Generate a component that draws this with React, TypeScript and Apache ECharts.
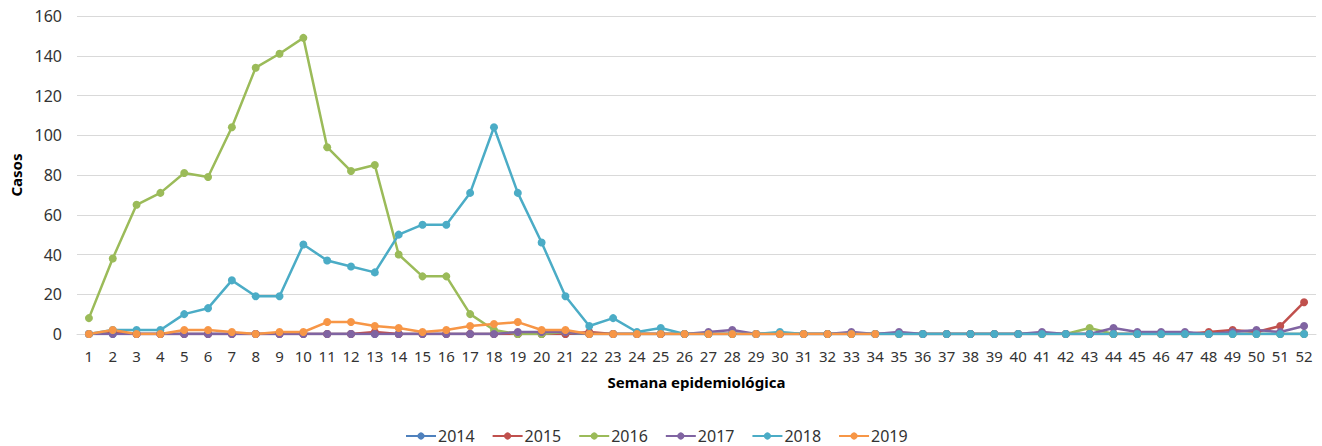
import React, { useEffect, useRef } from "react";
import * as echarts from "echarts";

const weeks: string[] = Array.from({ length: 52 }, (_, i) => String(i + 1));

const yearNames = ["2014", "2015", "2016", "2017", "2018", "2019"];
const yearColors = ["#4F81BD", "#C0504D", "#9BBB59", "#8064A2", "#4BACC6", "#F79646"];

const s2014 = [
  0, 0, 0, 0, 0, 0, 0, 0, 0, 0, 0, 0, 0, 0, 0, 0, 0, 0, 0, 0, 0, 0, 0, 0, 0, 0,
  0, 0, 0, 0, 0, 0, 0, 0, 0, 0, 0, 0, 0, 0, 0, 0, 0, 0, 0, 0, 0, 0, 0, 0, 0, 0,
];
const s2015 = [
  0, 1, 0, 0, 0, 0, 0, 0, 0, 0, 0, 0, 1, 0, 0, 0, 0, 0, 0, 0, 0, 1, 0, 0, 0, 0,
  0, 0, 0, 0, 0, 0, 0, 0, 0, 0, 0, 0, 0, 0, 0, 0, 0, 0, 0, 0, 0, 1, 2, 1, 4, 16,
];
const s2016 = [
  8, 38, 65, 71, 81, 79, 104, 134, 141, 149, 94, 82, 85, 40, 29, 29, 10, 2, 0, 0, 1, 0, 0, 0, 0, 0,
  0, 0, 0, 0, 0, 0, 0, 0, 0, 0, 0, 0, 0, 0, 0, 0, 3, 0, 0, 0, 0, 0, 0, 0, 0, 0,
];
const s2017 = [
  0, 0, 0, 0, 0, 0, 0, 0, 0, 0, 0, 0, 0, 0, 0, 0, 0, 0, 1, 1, 1, 0, 0, 0, 0, 0,
  1, 2, 0, 0, 0, 0, 1, 0, 1, 0, 0, 0, 0, 0, 1, 0, 0, 3, 1, 1, 1, 0, 1, 2, 1, 4,
];
const s2018 = [
  0, 2, 2, 2, 10, 13, 27, 19, 19, 45, 37, 34, 31, 50, 55, 55, 71, 104, 71, 46, 19, 4, 8, 1, 3, 0,
  0, 0, 0, 1, 0, 0, 0, 0, 0, 0, 0, 0, 0, 0, 0, 0, 0, 0, 0, 0, 0, 0, 0, 0, 0, 0,
];
const s2019 = [
  0, 2, 0, 0, 2, 2, 1, 0, 1, 1, 6, 6, 4, 3, 1, 2, 4, 5, 6, 2, 2, 0, 0, 0, 0, 0,
  0, 0, 0, 0, 0, 0, 0, 0,
];

const seriesData = [s2014, s2015, s2016, s2017, s2018, s2019];

const FONT = "'Noto Sans', 'Open Sans', sans-serif";

export default function App() {
  const ref = useRef<HTMLDivElement>(null);

  useEffect(() => {
    document.body.style.margin = "0";
    if (!ref.current) return;
    const chart = echarts.init(ref.current, undefined, { renderer: "svg" });
    chart.setOption({
      animation: false,
      backgroundColor: "#ffffff",
      textStyle: { fontFamily: FONT },
      grid: { left: 75, right: 6, top: 16, bottom: 112, containLabel: false },
      legend: {
        data: yearNames,
        bottom: -3,
        left: 400,
        itemWidth: 30,
        itemHeight: 9,
        itemGap: 17,
        textStyle: { fontFamily: FONT, fontSize: 16, color: "#333", padding: [0, 0, 0, -3] },
      },
      xAxis: {
        type: "category",
        data: weeks,
        boundaryGap: true,
        name: "Semana epidemiológica",
        nameLocation: "middle",
        nameGap: 40,
        nameTextStyle: { fontFamily: FONT, fontSize: 15, fontWeight: "bold", color: "#000" },
        axisLine: { show: true, lineStyle: { color: "#d9d9d9", width: 1 } },
        axisTick: { show: false },
        axisLabel: { interval: 0, margin: 14, fontFamily: FONT, fontSize: 15, color: "#333" },
      },
      yAxis: {
        type: "value",
        min: 0,
        max: 160,
        interval: 20,
        name: "Casos",
        nameLocation: "middle",
        nameGap: 54,
        nameRotate: 90,
        nameTextStyle: { fontFamily: FONT, fontSize: 15, fontWeight: "bold", color: "#000" },
        axisLine: { show: false },
        axisTick: { show: false },
        axisLabel: { margin: 15, fontFamily: FONT, fontSize: 16, color: "#333" },
        splitLine: { show: true, lineStyle: { color: "#d9d9d9", width: 1 } },
      },
      series: yearNames.map((name, i) => ({
        name,
        type: "line",
        data: seriesData[i],
        symbol: "circle",
        symbolSize: 8,
        showSymbol: true,
        lineStyle: { color: yearColors[i], width: 2.5 },
        itemStyle: { color: yearColors[i] },
        color: yearColors[i],
      })),
    });
    return () => chart.dispose();
  }, []);

  return <div ref={ref} style={{ width: 1322, height: 446 }} />;
}
